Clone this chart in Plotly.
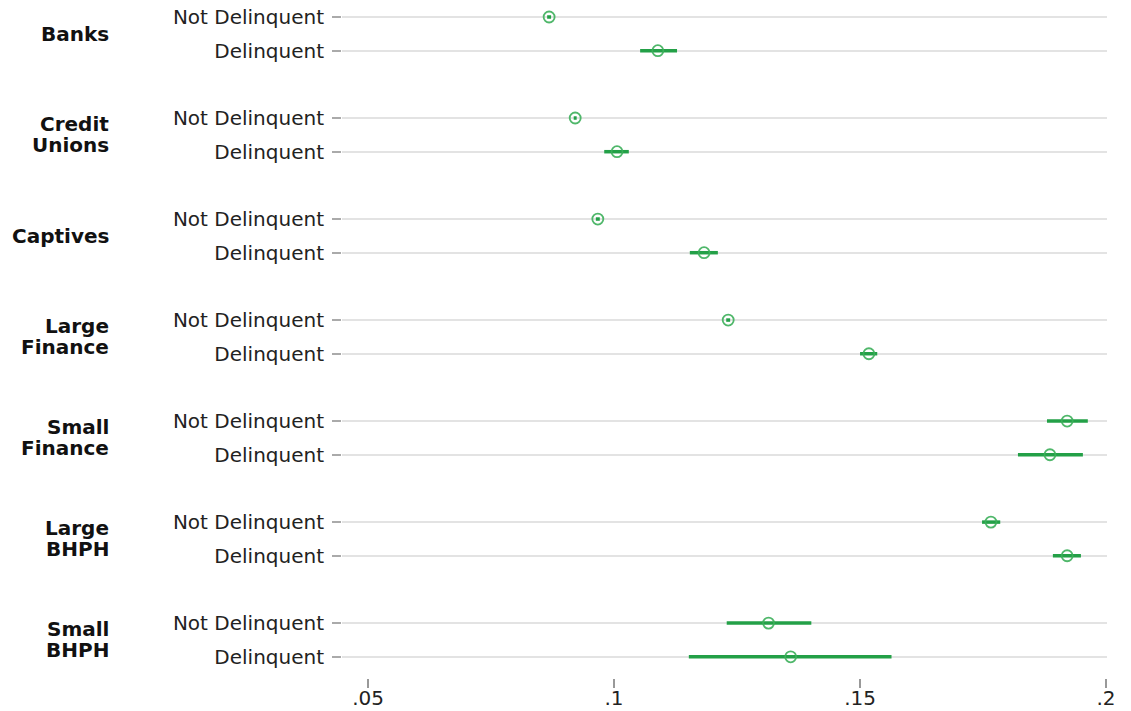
import plotly.graph_objects as go

groups = ["Banks", "Credit Unions", "Captives", "Large Finance", "Small Finance", "Large BHPH", "Small BHPH"]
group_lines = [["Banks"], ["Credit", "Unions"], ["Captives"], ["Large", "Finance"], ["Small", "Finance"], ["Large", "BHPH"], ["Small", "BHPH"]]
statuses = ["Not Delinquent", "Delinquent"]

# estimates per group: [Not Delinquent, Delinquent]
est = [[0.0868, 0.1089], [0.0921, 0.1006], [0.0967, 0.1183], [0.1232, 0.1518],
       [0.1921, 0.1886], [0.1766, 0.1921], [0.1314, 0.1359]]
lo = [[0.0864, 0.1053], [0.0918, 0.0980], [0.0963, 0.1154], [0.1228, 0.1500],
      [0.1880, 0.1821], [0.1748, 0.1892], [0.1229, 0.1152]]
hi = [[0.0872, 0.1128], [0.0924, 0.1030], [0.0971, 0.1211], [0.1236, 0.1535],
      [0.1963, 0.1953], [0.1785, 0.1949], [0.1401, 0.1564]]

xtick_vals = [0.05, 0.10, 0.15, 0.20]
xtick_text = [".05", ".1", ".15", ".2"]

ys, xs, lows, highs, labels = [], [], [], [], []
for gi in range(len(groups)):
    for si in range(len(statuses)):
        ys.append(gi * 3 + si)
        xs.append(est[gi][si])
        lows.append(lo[gi][si])
        highs.append(hi[gi][si])
        labels.append(statuses[si])

fig = go.Figure()
# error bars as horizontal line segments
for y, l, h in zip(ys, lows, highs):
    fig.add_trace(go.Scatter(x=[l, h], y=[y, y], mode="lines",
                             line=dict(color="#23a047", width=3.5),
                             showlegend=False, hoverinfo="skip"))
fig.add_trace(go.Scatter(x=xs, y=ys, mode="markers",
                         marker=dict(symbol="circle-open", size=11,
                                     color="rgba(60,175,90,0.9)",
                                     line=dict(width=1.8)),
                         showlegend=False))

annotations = []
for gi, lines in enumerate(group_lines):
    n = len(lines)
    for li, t in enumerate(lines):
        shift = (n - 1) / 2 * 21 - li * 21
        annotations.append(dict(x=-0.302, xref="paper", y=gi * 3 + 0.5, yref="y",
                                text="<b>" + t + "</b>", showarrow=False,
                                xanchor="right", yanchor="middle", yshift=shift,
                                font=dict(family="DejaVu Sans", size=20, color="#111111")))

fig.update_layout(
    width=1131, height=711,
    margin=dict(l=342, r=24, t=0, b=33),
    plot_bgcolor="white", paper_bgcolor="white",
    font=dict(family="DejaVu Sans", size=20, color="#222222"),
    annotations=annotations,
    xaxis=dict(range=[0.0447, 0.2002], tickvals=xtick_vals, ticktext=xtick_text,
               showgrid=False, zeroline=False, showline=False,
               ticks="outside", ticklen=9, tickcolor="#999999", tickwidth=1.5,
               ticklabelstandoff=-7, tickfont=dict(size=20), automargin=False),
    yaxis=dict(range=[19.63, -0.505], tickvals=ys, ticktext=labels,
               showgrid=True, gridcolor="#e3e3e3", gridwidth=2,
               zeroline=False, showline=False,
               ticks="outside", ticklen=9, tickcolor="#aaaaaa", tickwidth=1.5,
               ticklabelstandoff=4, tickfont=dict(size=20), automargin=False),
)

fig.write_html("out.html", config={"displayModeBar": False},
               post_script="document.body.style.margin='0';document.body.style.overflow='hidden';")
